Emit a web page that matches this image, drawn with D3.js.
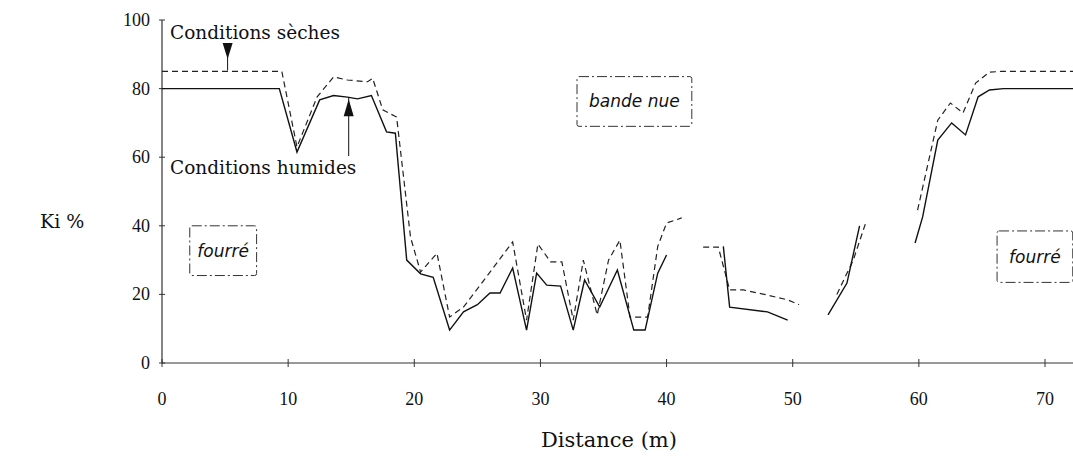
<!DOCTYPE html>
<html>
<head>
<meta charset="utf-8">
<script src="https://cdn.jsdelivr.net/npm/d3@7"></script>
<style>
  body { margin: 0; background: #fff; }
  text { font-family: "Liberation Serif", "DejaVu Serif", serif; fill: #111; }
  .lbl { font-family: "DejaVu Serif", serif; }
  .zone { font-family: "DejaVu Sans", sans-serif; font-style: italic; }
</style>
</head>
<body>
<div id="chart"></div>
<script>
const width = 1073, height = 461;

// Ki % profiles along the transect (null = trace missing in the scan)
const humidX = [0, 9.3, 10.7, 12.5, 13.6, 14.7, 15.5, 16.6, 17.8, 18.5, 19.4, 20.5, 21.5, 22.8, 23.9, 25, 26, 26.8, 27.8, 28.9, 29.7, 30.5, 31.6, 32.6, 33.5, 34.7, 36.1, 37.4, 38.3, 39.3, 40,
  41, 44.5, 45, 48, 49.6, 51, 52.8, 54.3, 55.3, 57, 59.7, 60.3, 61.5, 62.6, 63.7, 64.7, 65.6, 66.7, 72.3];
const humidY = [80, 80, 61.5, 76.7, 78, 77.5, 77, 78, 67.4, 67, 30, 26, 25, 9.6, 14.9, 17, 20.4, 20.4, 27.7, 9.6, 26.2, 22.7, 22.4, 9.6, 24.2, 16.3, 27.1, 9.6, 9.6, 26.2, 31.5,
  null, 34, 16.3, 14.9, 12.5, null, 14, 23.3, 40, null, 35, 42.6, 65, 70, 66.5, 77.6, 79.6, 80, 80];

const dryX = [0, 9.5, 10.7, 12.3, 13.6, 14.7, 16.3, 16.7, 17.5, 18.6, 19.7, 20.5, 21.8, 22.8, 23.9, 25.7, 27.8, 28.9, 29.8, 30.8, 31.7, 32.6, 33.4, 34.5, 35.4, 36.3, 37.1, 38.5, 39.3, 40, 41.2,
  42, 42.9, 44.1, 45, 46.1, 48, 49.6, 50.5, 52, 53.5, 54.8, 55.8, 57.5, 59.9, 61.5, 62.5, 63.5, 64.5, 65.6, 66.5, 72.3];
const dryY = [85, 85, 63, 77.6, 83.4, 82.5, 82, 83, 73.8, 71.7, 36.7, 26.5, 32, 13.4, 16.3, 25, 35.3, 12.5, 34.7, 29.5, 29.5, 12.5, 30, 14, 30, 35.8, 13.4, 13.4, 34, 40.8, 42.3,
  null, 33.8, 33.8, 21.3, 21.3, 19.8, 18.4, 17, null, 20, 30, 41, null, 44.6, 70.8, 75.8, 72.9, 81.6, 84.8, 85, 85];

const xTicks = [0, 10, 20, 30, 40, 50, 60, 70];
const yTicks = [0, 20, 40, 60, 80, 100];

const svg = d3.select('#chart').append("svg")
    .attr("width", width)
    .attr("height", height);

const x = d3.scaleLinear().domain([0, 70]).range([162, 1045]);
const y = d3.scaleLinear().domain([0, 100]).range([363, 20]);

// axes
svg.append("line")
    .attr("x1", x(0)).attr("x2", x(72.3))
    .attr("y1", y(0)).attr("y2", y(0))
    .attr("stroke", "#333").attr("stroke-width", 1);
svg.append("line")
    .attr("x1", x(0)).attr("x2", x(0))
    .attr("y1", y(0)).attr("y2", y(100))
    .attr("stroke", "#333").attr("stroke-width", 1.2);

const xa = svg.append("g").attr("class", "xticks")
    .selectAll("g").data(xTicks).enter().append("g");
xa.append("line")
    .attr("x1", d => x(d)).attr("x2", d => x(d))
    .attr("y1", y(0) - 4).attr("y2", y(0) + 4)
    .attr("stroke", "#333");
xa.append("text")
    .attr("x", d => x(d)).attr("y", 405)
    .attr("text-anchor", "middle")
    .style("font-size", "18px")
    .text(d => d);

const ya = svg.append("g").attr("class", "yticks")
    .selectAll("g").data(yTicks).enter().append("g");
ya.append("line")
    .attr("x1", x(0) - 3).attr("x2", x(0) + 3)
    .attr("y1", d => y(d)).attr("y2", d => y(d))
    .attr("stroke", "#333");
ya.append("text")
    .attr("x", 150).attr("y", d => y(d) + 6)
    .attr("text-anchor", "end")
    .style("font-size", "18px")
    .text(d => d);

svg.append("text")
    .attr("class", "lbl")
    .attr("x", 40).attr("y", 228)
    .style("font-size", "19px")
    .text("Ki %");
svg.append("text")
    .attr("class", "lbl")
    .attr("x", 609).attr("y", 447)
    .attr("text-anchor", "middle")
    .style("font-size", "21px")
    .text("Distance (m)");

// profiles
const line = d3.line()
    .defined(d => d[1] !== null)
    .x(d => x(d[0]))
    .y(d => y(d[1]));

svg.append("path")
    .datum(d3.zip(dryX, dryY))
    .attr("d", line)
    .attr("fill", "none")
    .attr("stroke", "#222")
    .attr("stroke-width", 1.2)
    .attr("stroke-dasharray", "6,4");

svg.append("path")
    .datum(d3.zip(humidX, humidY))
    .attr("d", line)
    .attr("fill", "none")
    .attr("stroke", "#111")
    .attr("stroke-width", 1.4);

// zone boxes
const zones = [
  {label: "fourré", x0: 2.2, x1: 7.5, y0: 40, y1: 25.5},
  {label: "bande nue", x0: 32.9, x1: 42, y0: 83.5, y1: 69},
  {label: "fourré", x0: 66.2, x1: 72.2, y0: 38.5, y1: 23.5}
];
const zg = svg.append("g").selectAll("g").data(zones).enter().append("g");
zg.append("rect")
    .attr("x", d => x(d.x0)).attr("y", d => y(d.y0))
    .attr("width", d => x(d.x1) - x(d.x0))
    .attr("height", d => y(d.y1) - y(d.y0))
    .attr("rx", 2)
    .attr("fill", "none")
    .attr("stroke", "#333")
    .attr("stroke-dasharray", "10,3,2,3");
zg.append("text")
    .attr("class", "zone")
    .attr("x", d => (x(d.x0) + x(d.x1)) / 2)
    .attr("y", d => (y(d.y0) + y(d.y1)) / 2 + 6)
    .attr("text-anchor", "middle")
    .style("font-size", "17px")
    .text(d => d.label);

// annotations
svg.append("text")
    .attr("class", "lbl")
    .attr("x", 170).attr("y", 39)
    .style("font-size", "18.5px")
    .text("Conditions sèches");
svg.append("text")
    .attr("class", "lbl")
    .attr("x", 170).attr("y", 174)
    .style("font-size", "18.5px")
    .text("Conditions humides");

const ax1 = x(5.2), ax2 = x(14.8);
svg.append("line")
    .attr("x1", ax1).attr("x2", ax1)
    .attr("y1", 44).attr("y2", y(85) - 1)
    .attr("stroke", "#111");
svg.append("path")
    .attr("d", `M${ax1 - 5},${43} L${ax1 + 5},${43} L${ax1},${59} Z`)
    .attr("fill", "#111");
svg.append("line")
    .attr("x1", ax2).attr("x2", ax2)
    .attr("y1", y(77.5)).attr("y2", 156)
    .attr("stroke", "#111");
svg.append("path")
    .attr("d", `M${ax2 - 5},${y(77.5) + 19} L${ax2 + 5},${y(77.5) + 19} L${ax2},${y(77.5) + 2} Z`)
    .attr("fill", "#111");
</script>
</body>
</html>
